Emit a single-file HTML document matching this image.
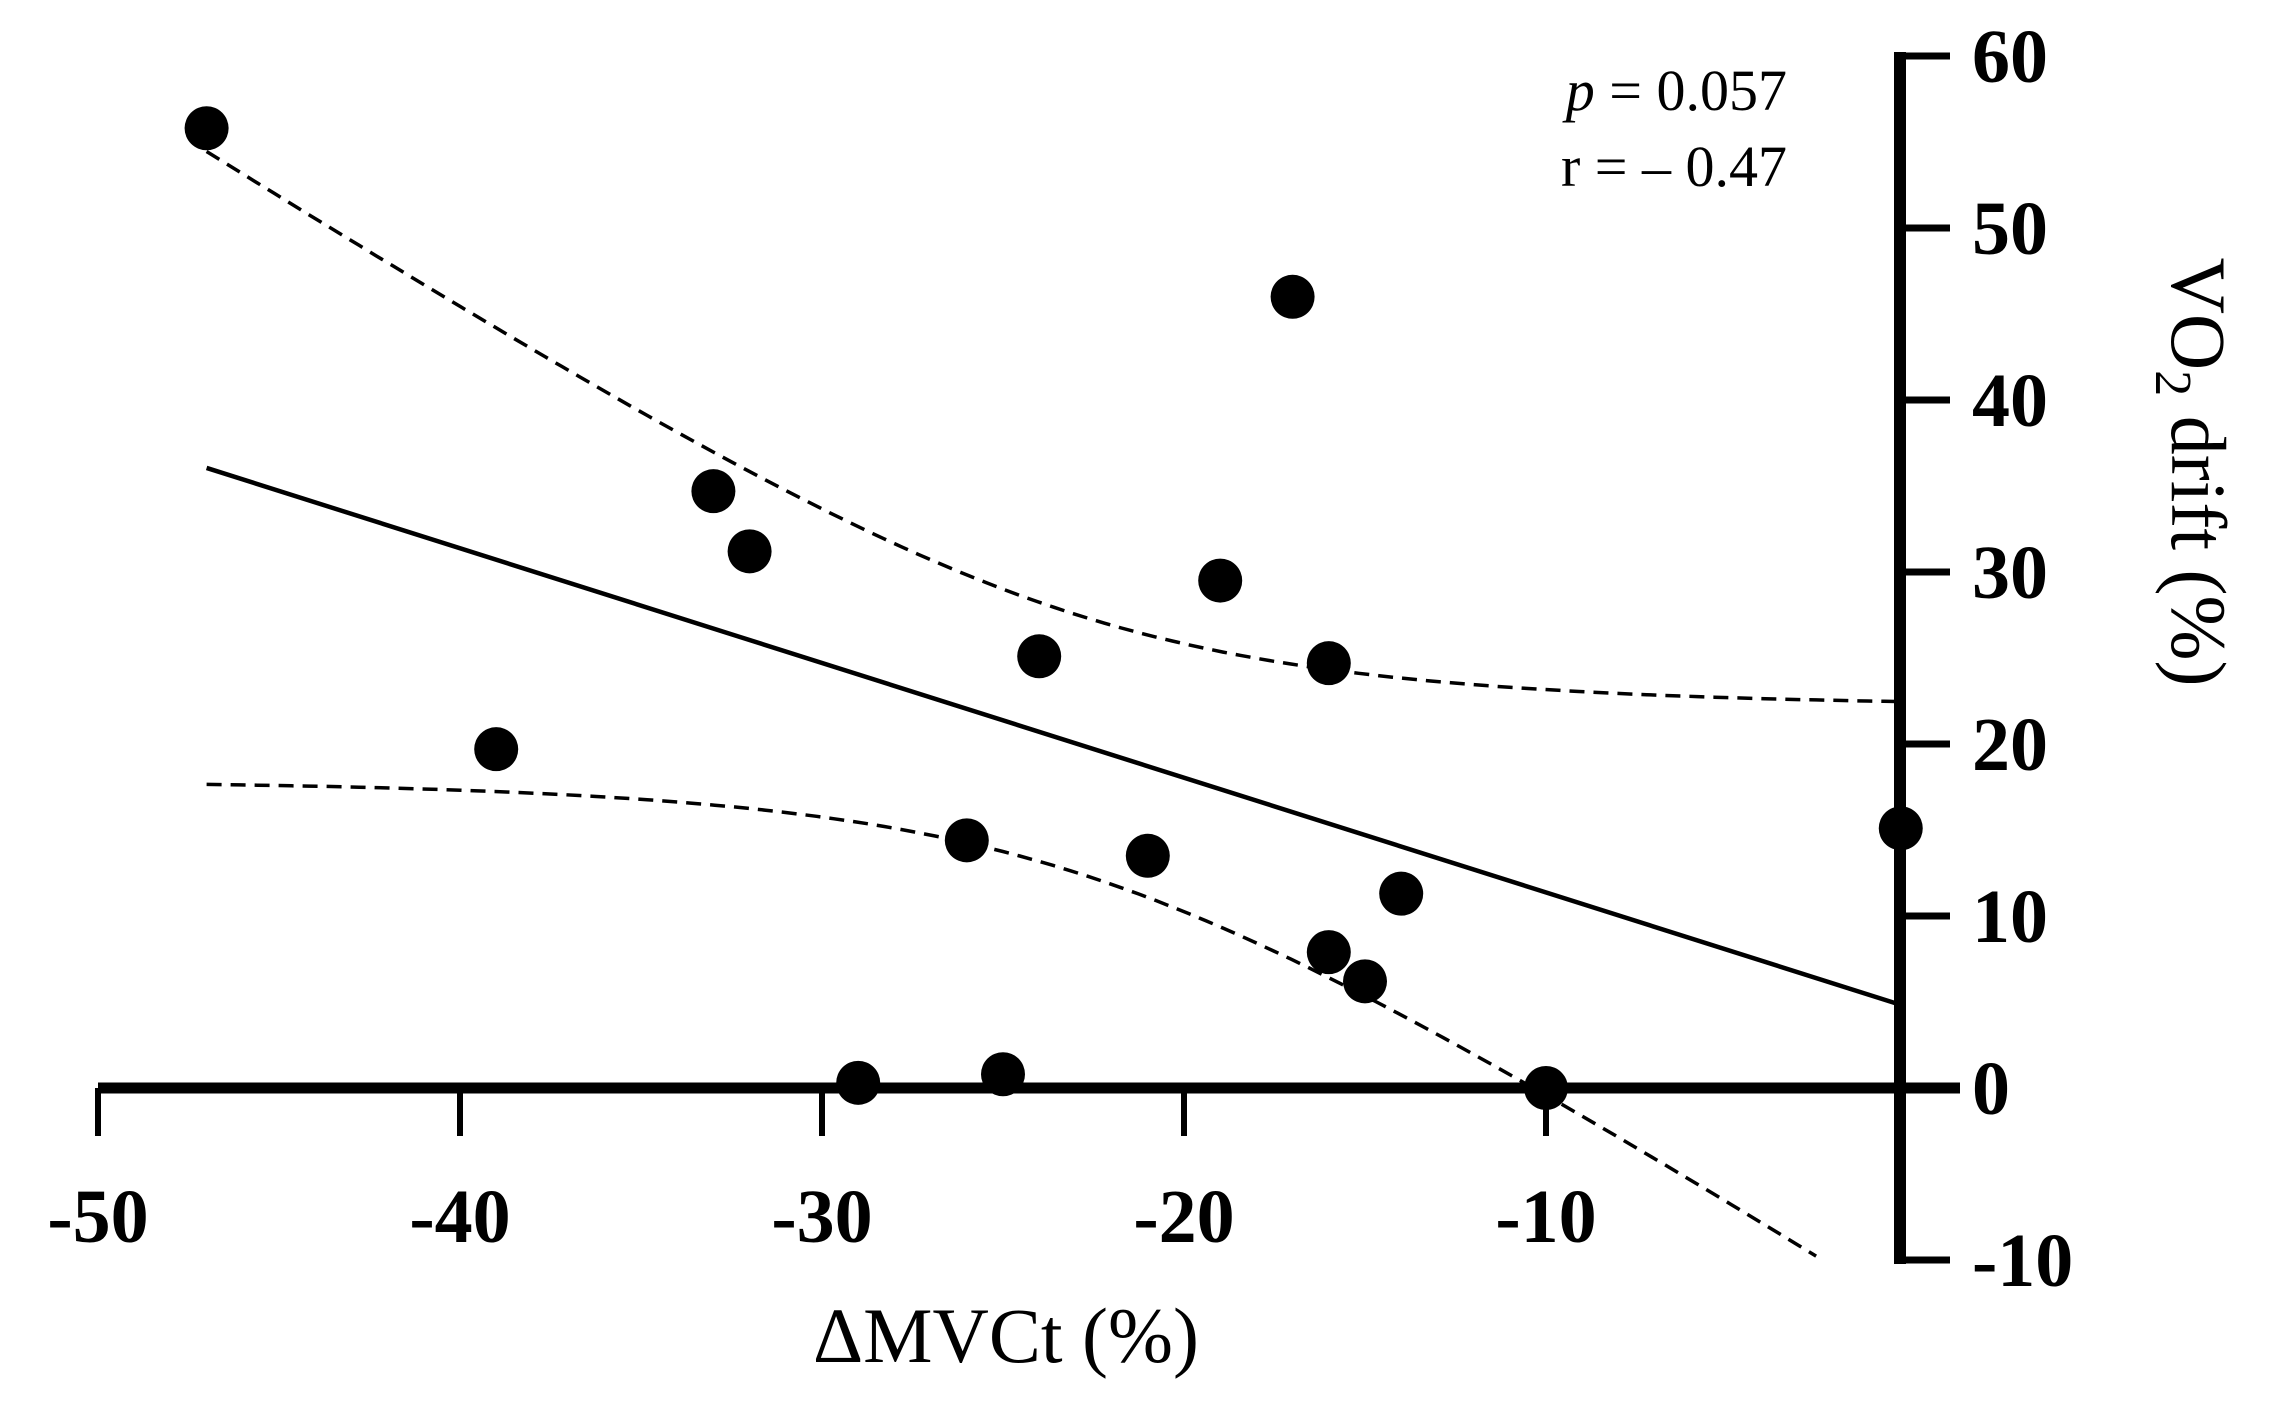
<!DOCTYPE html>
<html><head><meta charset="utf-8"><style>
html,body{margin:0;padding:0;background:#fff;}
svg{display:block;font-family:"Liberation Serif",serif;}
</style></head><body>
<svg id="chart" width="2286" height="1402" viewBox="0 0 2286 1402" xmlns="http://www.w3.org/2000/svg"></svg>
<script>
const xTicks=[-50,-40,-30,-20,-10];
const yTicks=[60,50,40,30,20,10,0,-10];
const xVals=[-47,-17,-33,-32,-19,-24,-16,-39,-0.2,-26,-21,-14,-16,-15,-29,-25,-10];
const yVals=[55.8,46,34.7,31.2,29.5,25.1,24.7,19.7,15.1,14.4,13.5,11.3,7.9,6.2,0.3,0.8,0];
const fitIntercept=[4.7];
const fitSlope=[-0.667];
const ciCenter=[-23];
const ciMinHalf=[7.5];
const ciSpread=[0.49];
const fitRange=[-47,-0.2];

const svg=document.getElementById('chart');
const NS='http://www.w3.org/2000/svg';
function X(v){return 98+(v+50)*36.2;}
function Y(v){return 1088-v*17.2;}
function mk(tag,attrs,parent){const e=document.createElementNS(NS,tag);for(const k in attrs)e.setAttribute(k,attrs[k]);(parent||svg).appendChild(e);return e;}

let ax=mk('line',{x1:X(-50),y1:Y(0),x2:1960,y2:Y(0),stroke:'#000','stroke-width':11});


let ay=mk('line',{x1:1900,y1:Y(60)-4,x2:1900,y2:Y(-10)+4,stroke:'#000','stroke-width':12});


xTicks.forEach(t=>{
  let l=mk('line',{x1:X(t),y1:Y(0),x2:X(t),y2:Y(0)+48,stroke:'#000','stroke-width':6});
  
  
  let tx=mk('text',{x:X(t),y:1242,'text-anchor':'middle','font-size':76,'font-weight':'bold'});
  tx.textContent=String(t);
  
  
});
yTicks.forEach(t=>{
  let l=mk('line',{x1:1900,y1:Y(t),x2:1950,y2:Y(t),stroke:'#000','stroke-width':7});
  
  
  let tx=mk('text',{x:1972,y:Y(t)+26,'text-anchor':'start','font-size':76,'font-weight':'bold'});
  tx.textContent=String(t);
  
  
});

const a=fitIntercept[0],b=fitSlope[0];
let rl=mk('line',{x1:X(fitRange[0]),y1:Y(a+b*fitRange[0]),x2:X(fitRange[1]),y2:Y(a+b*fitRange[1]),stroke:'#000','stroke-width':4.5});



function band(sign){
  let pts=[];
  for(let i=0;i<=100;i++){
    const x=fitRange[0]+(fitRange[1]-fitRange[0])*i/100;
    const w=Math.sqrt(ciMinHalf[0]*ciMinHalf[0]+ciSpread[0]*(x-ciCenter[0])*(x-ciCenter[0]));
    let y=a+b*x+sign*w;
    if(y<-10)break;
    pts.push(X(x).toFixed(1)+','+Y(y).toFixed(1));
  }
  return pts.join(' ');
}
let ub=mk('polyline',{points:band(1),fill:'none',stroke:'#000','stroke-width':3.5,'stroke-dasharray':'15 9'});


let lb=mk('polyline',{points:band(-1),fill:'none',stroke:'#000','stroke-width':3.5,'stroke-dasharray':'15 9'});



xVals.forEach((x,i)=>{
  let c=mk('circle',{cx:X(x),cy:Y(yVals[i]),r:22,fill:'#000'});
  
  
});

let p=mk('text',{x:1787,y:110,'text-anchor':'end','font-size':58});
p.innerHTML='<tspan font-style="italic">p</tspan> = 0.057';


let r=mk('text',{x:1787,y:186,'text-anchor':'end','font-size':58});
r.textContent='r = \u2013 0.47';



let xt=mk('text',{x:1006,y:1362,'text-anchor':'middle','font-size':78});
xt.textContent='\u0394MVCt (%)';


let yt=mk('text',{x:0,y:0,'text-anchor':'middle','font-size':78,transform:'translate(2172,472) rotate(90)'});
yt.innerHTML='VO<tspan font-size="52" dy="16">2</tspan><tspan dy="-16"> drift (%)</tspan>';


</script>
</body></html>
